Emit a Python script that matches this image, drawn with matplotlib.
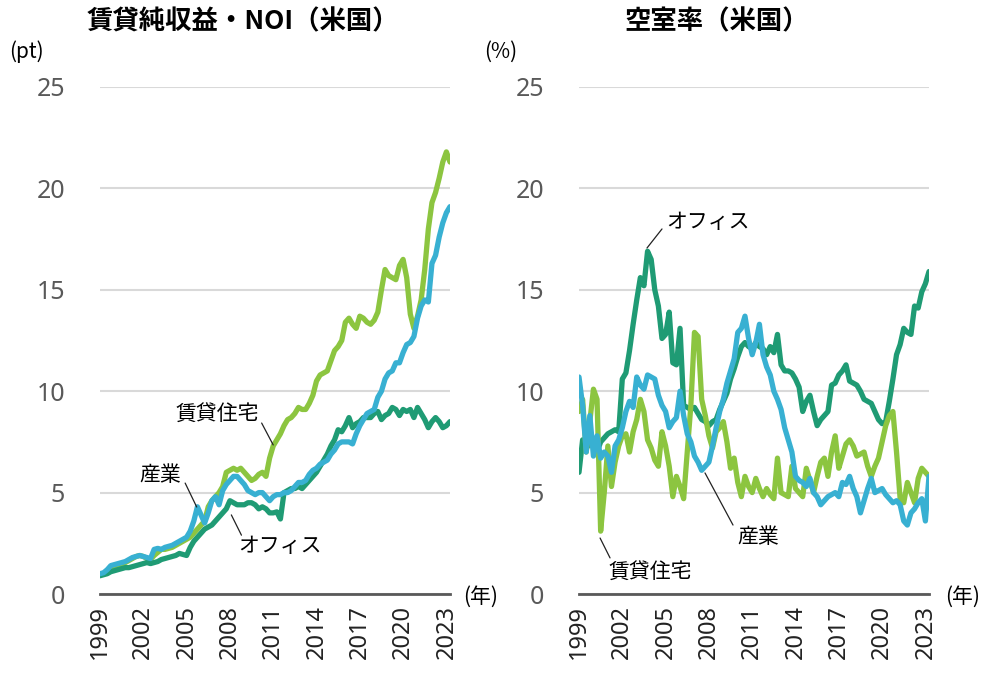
import matplotlib.pyplot as plt
import numpy as np

plt.rcParams['font.family'] = ['Noto Sans', 'Noto Sans CJK JP']

# quarterly, 1999Q1 - 2023Q2
quarters = 1999 + np.arange(98) / 4
year_ticks = list(range(1999, 2024, 3))

# 賃貸純収益・NOI (1999Q1 = 1)
noi_residential = [
    0.95, 1.0, 1.1, 1.2, 1.3, 1.35, 1.4, 1.55, 1.65, 1.75,
    1.85, 1.9, 1.85, 1.75, 1.7, 1.9, 2.05, 2.2, 2.2, 2.25,
    2.3, 2.4, 2.5, 2.6, 2.7, 2.8, 3.0, 3.2, 3.4, 3.6,
    4.3, 4.6, 4.8, 5.0, 5.3, 6.0, 6.1, 6.2, 6.1, 6.2,
    6.0, 5.8, 5.6, 5.7, 5.9, 6.0, 5.8, 6.7, 7.3, 7.6,
    7.9, 8.3, 8.6, 8.7, 8.9, 9.2, 9.1, 9.1, 9.4, 9.8,
    10.5, 10.8, 10.9, 11.0, 11.5, 12.0, 12.2, 12.5, 13.4, 13.6,
    13.3, 13.1, 13.7, 13.6, 13.4, 13.3, 13.5, 13.9, 15.0, 16.0,
    15.7, 15.6, 15.5, 16.2, 16.5, 15.6, 13.8, 13.1, 13.7, 14.5,
    16.0, 18.0, 19.3, 19.8, 20.5, 21.3, 21.8, 21.3,
]
noi_office = [
    0.9, 0.95, 1.0, 1.1, 1.15, 1.2, 1.25, 1.3, 1.3, 1.35,
    1.4, 1.45, 1.5, 1.55, 1.5, 1.55, 1.6, 1.7, 1.75, 1.8,
    1.85, 1.9, 2.0, 1.95, 1.9, 2.3, 2.6, 2.8, 3.0, 3.2,
    3.3, 3.4, 3.6, 3.8, 4.0, 4.2, 4.6, 4.5, 4.4, 4.4,
    4.4, 4.5, 4.5, 4.4, 4.2, 4.3, 4.2, 4.0, 4.0, 4.05,
    3.7, 5.0, 5.1, 5.2, 5.2, 5.3, 5.2, 5.4, 5.6, 5.8,
    6.0, 6.3, 6.6, 6.9, 7.3, 7.6, 8.1, 8.0, 8.3, 8.7,
    8.2, 8.4, 8.5, 8.7, 8.7, 8.7, 8.9, 9.0, 8.6, 8.8,
    8.9, 9.2, 9.1, 8.8, 9.1, 9.0, 9.1, 8.7, 9.2, 8.9,
    8.6, 8.2, 8.5, 8.7, 8.5, 8.2, 8.3, 8.5,
]
noi_industrial = [
    1.0, 1.05, 1.2, 1.4, 1.45, 1.5, 1.55, 1.6, 1.7, 1.8,
    1.85, 1.9, 1.85, 1.8, 1.75, 2.2, 2.25, 2.2, 2.3, 2.35,
    2.4, 2.5, 2.6, 2.7, 2.8, 3.1, 3.6, 4.3, 3.9, 3.5,
    4.0, 4.6, 4.8, 4.4, 5.1, 5.4, 5.6, 5.8, 5.8, 5.6,
    5.4, 5.1, 5.0, 4.9, 5.0, 5.0, 4.8, 4.6, 4.8, 4.9,
    4.9, 5.0, 5.0, 5.1, 5.3, 5.5, 5.5, 5.6, 5.9, 6.1,
    6.2, 6.4, 6.5, 6.6, 6.9, 7.1, 7.4, 7.5, 7.5, 7.5,
    7.4, 7.9, 8.3, 8.6, 8.9, 9.0, 9.1, 9.7, 10.0, 10.6,
    10.9, 11.0, 11.4, 11.4, 11.9, 12.3, 12.4, 12.7, 13.6, 14.2,
    14.5, 14.4, 16.3, 16.7, 17.6, 18.3, 18.8, 19.1,
]

# 空室率 (%)
vac_residential = [
    9.0, 9.6, 7.0, 8.5, 10.1, 9.6, 3.1, 5.0, 7.3, 5.3,
    6.5, 7.3, 7.8, 7.9, 7.0, 8.0, 8.6, 9.6, 9.0, 7.6,
    7.2, 6.6, 6.3, 8.0, 7.3, 6.3, 4.8, 5.8, 5.3, 4.7,
    7.0, 9.3, 12.9, 12.7, 9.6, 8.8, 7.8, 7.2, 8.0, 8.2,
    8.5, 7.5, 6.2, 6.7, 5.5, 4.8, 5.8, 5.3, 5.0, 5.7,
    5.2, 4.8, 5.2, 4.9, 4.7, 6.7, 5.0, 4.9, 4.8, 6.3,
    5.2, 5.0, 4.8, 6.2, 5.6, 5.0, 5.8, 6.5, 6.7, 5.8,
    7.0, 7.8, 6.2, 6.8, 7.4, 7.6, 7.3, 6.8, 6.9, 7.0,
    6.3, 5.8, 6.3, 6.7, 7.5, 8.3, 8.8, 9.0, 7.0, 4.7,
    4.5, 5.5, 5.0, 4.5, 5.7, 6.2, 6.0, 5.8,
]
vac_office = [
    6.0, 7.6, 7.2, 7.4, 7.3, 7.0, 7.5, 7.7, 7.9, 8.0,
    8.1, 8.0, 10.6, 10.9, 12.0, 13.3, 14.5, 15.6, 15.2, 16.9,
    16.5, 15.0, 14.2, 12.6, 12.8, 13.9, 11.4, 11.3, 13.1, 9.3,
    9.2, 9.1, 9.2, 8.9, 8.6, 8.5, 8.3, 8.5, 8.6, 9.1,
    9.5, 9.9, 10.6, 11.1, 11.7, 12.2, 12.4, 12.2, 12.1, 12.4,
    12.2, 12.1, 11.8, 12.2, 11.9, 12.8, 11.3, 11.0, 11.0, 10.9,
    10.6, 10.2, 9.0, 9.5, 9.8, 9.0, 8.3, 8.6, 8.8, 9.0,
    10.3, 10.4, 10.8, 11.0, 11.3, 10.5, 10.4, 10.3, 10.0, 9.6,
    9.5, 9.4, 9.0, 8.6, 8.4, 8.5, 9.5, 10.6, 11.8, 12.3,
    13.1, 12.9, 12.8, 14.2, 14.1, 14.9, 15.3, 15.9,
]
vac_industrial = [
    10.7, 9.3, 7.0, 8.8, 6.8, 7.8, 6.7, 7.0, 6.8, 6.0,
    7.3, 7.6, 8.2, 9.0, 9.5, 9.2, 10.7, 10.3, 10.1, 10.8,
    10.7, 10.6, 9.8, 9.3, 9.0, 8.2, 8.5, 8.7, 10.0, 8.8,
    7.9, 7.5, 6.8, 6.5, 6.1, 6.3, 6.5, 7.3, 8.2, 9.0,
    9.6, 10.4, 11.0, 11.6, 12.9, 13.1, 13.7, 12.6, 11.8, 12.4,
    13.3, 11.8, 11.2, 10.8, 10.0, 9.6, 9.1, 8.2, 7.6, 7.0,
    5.8, 5.6, 5.5, 5.3, 5.7, 5.0, 4.8, 4.4, 4.6, 4.8,
    4.9, 5.0, 4.8, 5.5, 5.4, 5.8, 5.2, 4.8, 4.0, 4.6,
    5.2, 5.7, 5.0, 5.1, 5.2, 4.9, 4.7, 4.5, 4.6, 4.4,
    3.6, 3.4, 4.0, 4.2, 4.5, 4.7, 3.6, 5.8,
]

c_res = '#8cc540'
c_off = '#1f9b74'
c_ind = '#38b0d2'
jp = 'Noto Sans CJK JP'
line_kw = dict(lw=3.8, solid_joinstyle='round', solid_capstyle='round')

fig = plt.figure(figsize=(9.82, 6.74), dpi=100)
ax1 = fig.add_axes([100 / 982, 80 / 674, 350 / 982, 507 / 674])
ax2 = fig.add_axes([579 / 982, 80 / 674, 350 / 982, 507 / 674])


def style(ax):
    ax.set_xlim(1999, 2023.25)
    ax.set_ylim(0, 25)
    ax.set_yticks([0, 5, 10, 15, 20, 25])
    ax.set_xticks(year_ticks)
    ax.set_xticklabels([str(y) for y in year_ticks], rotation=90)
    ax.grid(axis='y', color='#d9d9d9', lw=1.5)
    ax.set_axisbelow(True)
    for s in ['top', 'right', 'left']:
        ax.spines[s].set_visible(False)
    ax.spines['bottom'].set_color('#595959')
    ax.spines['bottom'].set_linewidth(2)
    ax.tick_params(axis='y', length=0, pad=25, labelsize=18, labelcolor='#595959')
    ax.tick_params(axis='x', length=0, pad=8, labelsize=17, labelcolor='#222222')


def leader(ax, start, end):
    ax.annotate('', xy=end, xytext=start,
                arrowprops=dict(arrowstyle='-', color='#222222', lw=0.9,
                                shrinkA=0, shrinkB=0))


# left: NOI
ax1.plot(quarters, noi_residential, color=c_res, **line_kw)
ax1.plot(quarters, noi_office, color=c_off, **line_kw)
ax1.plot(quarters, noi_industrial, color=c_ind, **line_kw)
style(ax1)
ax1.text(2007.1, 8.88, '賃貸住宅', family=jp, fontsize=15, ha='center', va='center')
leader(ax1, (2010.2, 8.43), (2011.0, 7.35))
ax1.text(2003.2, 5.85, '産業', family=jp, fontsize=15, ha='center', va='center')
leader(ax1, (2004.9, 5.47), (2005.7, 4.29))
ax1.text(2011.5, 2.37, 'オフィス', family=jp, fontsize=15, ha='center', va='center')
leader(ax1, (2008.1, 3.9), (2008.8, 2.9))

# right: vacancy
ax2.plot(quarters, vac_office, color=c_off, **line_kw)
ax2.plot(quarters, vac_residential, color=c_res, **line_kw)
ax2.plot(quarters, vac_industrial, color=c_ind, **line_kw)
style(ax2)
ax2.text(2007.94, 18.34, 'オフィス', family=jp, fontsize=15, ha='center', va='center')
leader(ax2, (2004.75, 18.0), (2003.71, 17.06))
ax2.text(2011.4, 2.81, '産業', family=jp, fontsize=15, ha='center', va='center')
leader(ax2, (2009.67, 3.4), (2007.73, 5.97))
ax2.text(2003.92, 1.08, '賃貸住宅', family=jp, fontsize=15, ha='center', va='center')
leader(ax2, (2001.15, 1.78), (2000.46, 2.76))

# titles and units
fig.text(243 / 982, 1 - 22 / 674, '賃貸純収益・NOI（米国）', family=jp, fontsize=19,
         fontweight='bold', ha='center', va='center')
fig.text(717 / 982, 1 - 22 / 674, '空室率（米国）', family=jp, fontsize=19,
         fontweight='bold', ha='center', va='center')
fig.text(26 / 982, 1 - 52 / 674, '(pt)', family=jp, fontsize=15, ha='center', va='center')
fig.text(501 / 982, 1 - 52 / 674, '(%)', family=jp, fontsize=15, ha='center', va='center')
fig.text(481 / 982, 1 - 597 / 674, '(年)', family=jp, fontsize=15, ha='center', va='center')
fig.text(963 / 982, 1 - 597 / 674, '(年)', family=jp, fontsize=15, ha='center', va='center')

fig.savefig('out.png', dpi=100)
